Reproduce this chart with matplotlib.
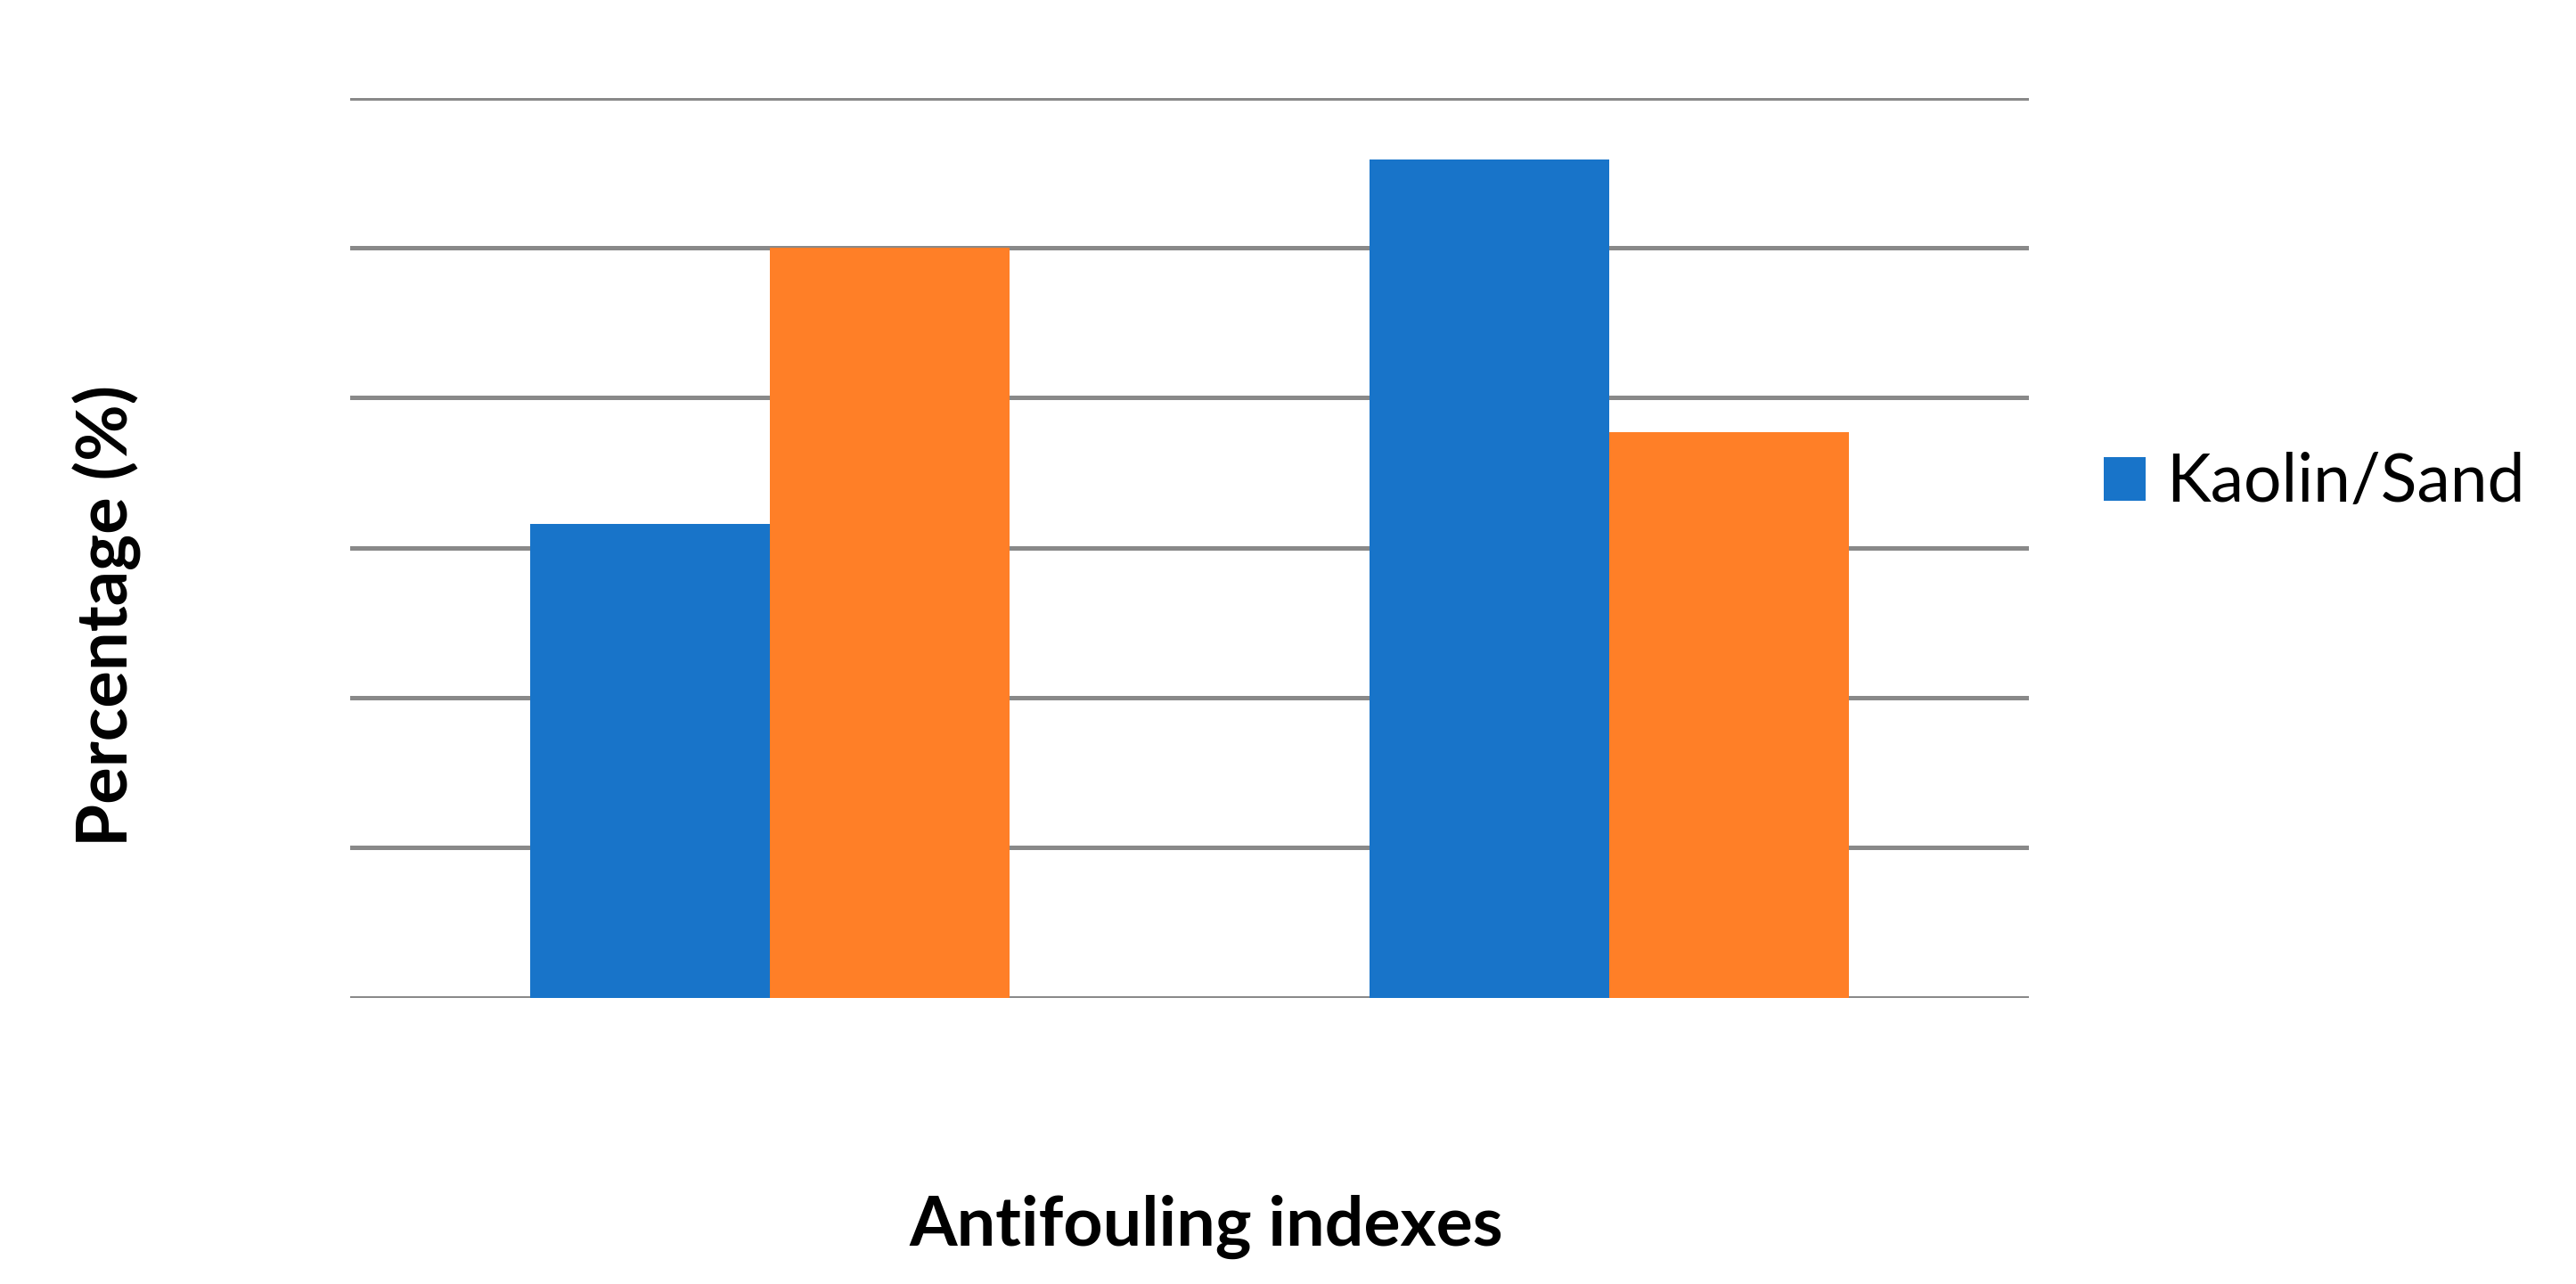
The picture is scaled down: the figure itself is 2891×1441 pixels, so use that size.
"""Grouped bar chart of antifouling indexes (two series, no tick labels)."""

import matplotlib
matplotlib.use("Agg")
import matplotlib.pyplot as plt
import numpy as np

# Data (y scale assumed 0-60, gridlines every 10).
categories = ["Index 1", "Index 2"]
kaolin_sand = [31.6, 55.9]
second_series = [50.0, 37.7]
y_ticks = [0, 10, 20, 30, 40, 50, 60]

BLUE = "#1874C9"
ORANGE = "#FF7F27"
GRID = "#898989"

plt.rcParams["font.family"] = ["Lato", "DejaVu Sans"]

W, H, DPI = 2891, 1441, 100
fig = plt.figure(figsize=(W / DPI, H / DPI), dpi=DPI)
ax = fig.add_axes([393 / W, 1 - 1119.5 / H, (2277 - 393) / W, (1119.5 - 109.5) / H])

x = np.arange(len(categories))
width = 1 / 1.75 / 2
blue_bars = ax.bar(x - width / 2, kaolin_sand, width, color=BLUE, label="Kaolin/Sand", zorder=3)
ax.bar(x + width / 2, second_series, width, color=ORANGE, zorder=3)

ax.set_xlim(-0.5, len(categories) - 0.5)
ax.set_ylim(y_ticks[0], y_ticks[-1])
ax.set_yticks(y_ticks)
ax.set_xticks([])
ax.tick_params(axis="y", length=0, labelleft=False)
ax.grid(axis="y", color=GRID, linewidth=3.6, zorder=1)
ax.set_axisbelow(True)
for spine in ax.spines.values():
    spine.set_visible(False)

fig.text(120 / W, 1 - 691 / H, "Percentage (%)", rotation=90, fontsize=56,
         fontweight="bold", ha="center", va="center")
fig.text(1354 / W, 1 - 1377 / H, "Antifouling indexes", fontsize=55.5,
         fontweight="bold", ha="center", va="center")

fig.legend(handles=[blue_bars], loc="center left", bbox_to_anchor=(2361 / W, 1 - 542 / H),
           frameon=False, fontsize=54, handlelength=0.63, handleheight=0.63,
           handletextpad=0.3, borderpad=0, borderaxespad=0)

fig.savefig("out.png", dpi=DPI, facecolor="white")
